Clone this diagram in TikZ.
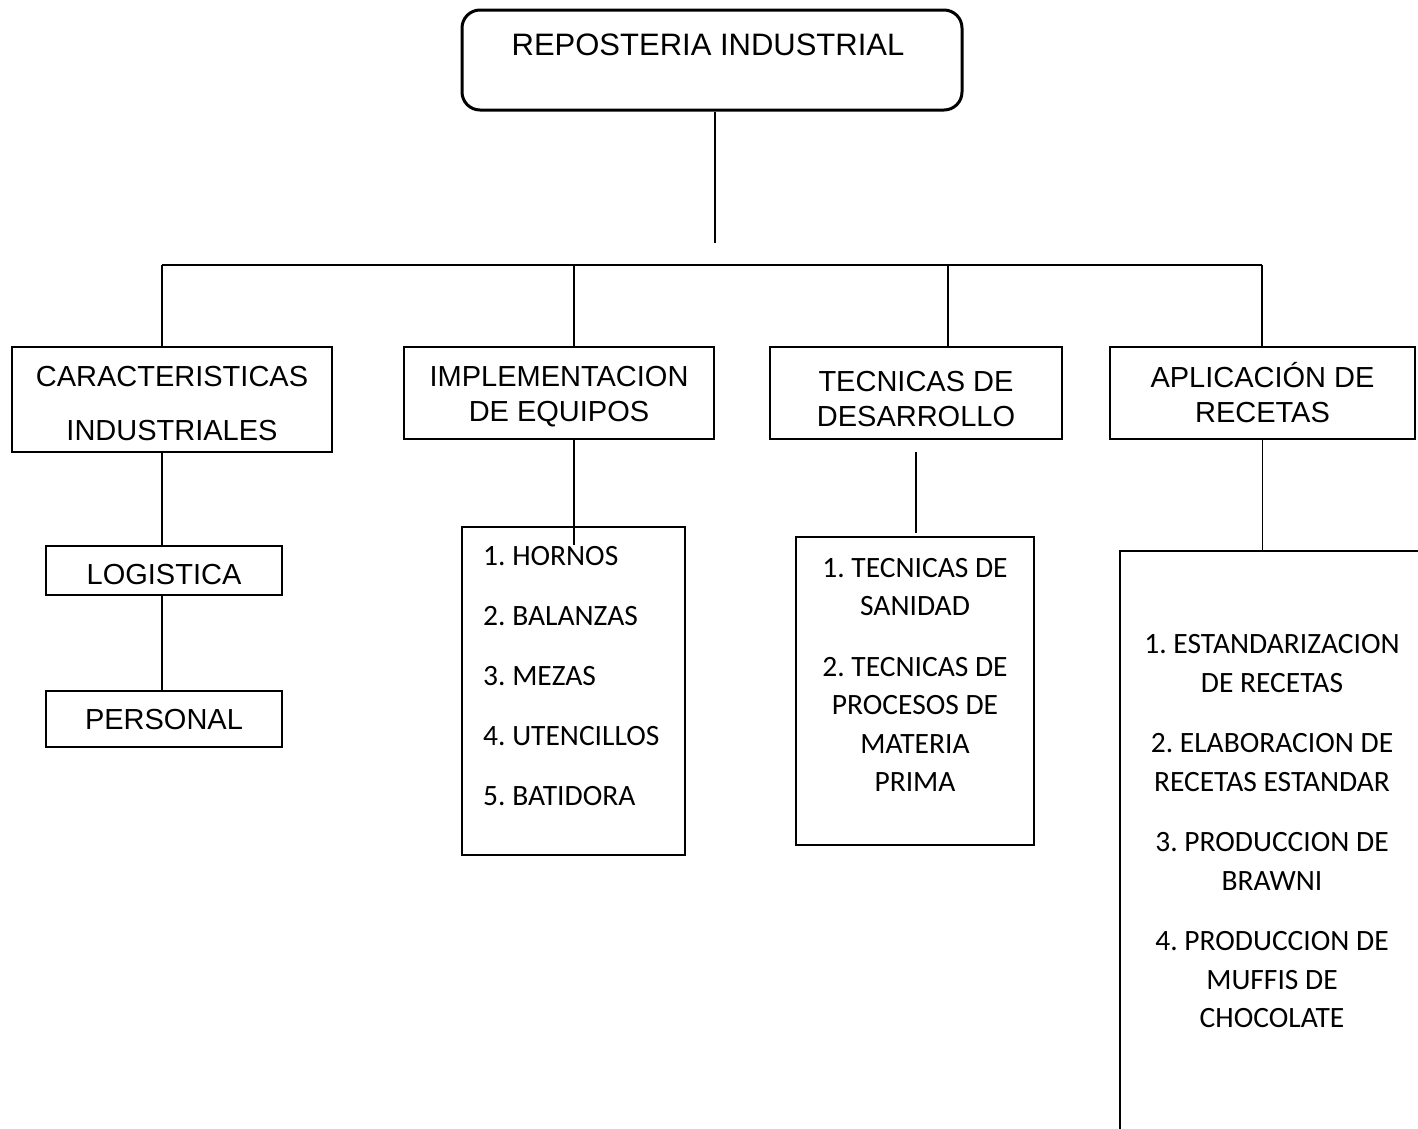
\documentclass[tikz,border=0pt]{standalone}
\usepackage{fontspec}
\setmainfont{Liberation Sans}
\newfontfamily\calibrifont{Carlito}
\usepackage{tikz}
\frenchspacing
\tikzset{
  rpframe/.style={draw, line width=2.5pt, inner sep=0pt},
  rplabel/.style={inner sep=0pt, align=center, font=\fontsize{29}{35}\selectfont},
  rplistfont/.style={inner sep=0pt, font=\calibrifont\fontsize{29.5}{38.5}\selectfont},
  rplinkline/.style={line width=1.3pt}
}
\newcommand{\rpbox}[6] {\node at (#1) (#2) [rpframe, minimum width=#3, minimum height=#4] {}; \node at (#2) (#2text) [rplabel, yshift=#5] {#6};}
\newcommand{\rptext}[4] {\node at (#1) (#2) [rplistfont, #3] {#4};}
\newcommand{\rplink}[2] {\draw [rplinkline] (#1) -- (#2);}

\begin{document}
\begin{tikzpicture}[x=1pt, y=-1pt]
\useasboundingbox (0,0) rectangle (1418,1128);

\node at (712,60) (title) [rpframe, line width=3pt, rounded corners=18pt, minimum width=500pt, minimum height=100pt] {};
\node at (708,45) (titletext) [font=\fontsize{31}{36}\selectfont] {REPOSTERIA INDUSTRIAL};

\rpbox {172,399.5} {carac} {320pt} {105pt} {-4pt} {CARACTERISTICAS\\[19pt]INDUSTRIALES};
\rpbox {559,393} {equipos} {310pt} {92pt} {-4pt} {IMPLEMENTACION\\DE EQUIPOS};
\rpbox {916,393} {tecnicas} {292pt} {92pt} {-6.5pt} {TECNICAS DE\\DESARROLLO};
\rpbox {1262.5,393} {aplic} {305pt} {92pt} {0pt} {APLICACIÓN DE\\RECETAS};
\rpbox {164,570.5} {logis} {236pt} {49pt} {-4pt} {LOGISTICA};
\rpbox {164,719} {personal} {236pt} {56pt} {-1pt} {PERSONAL};
\rpbox {573.5,691} {hornos} {223pt} {328pt} {0pt} {};
\rpbox {915,691} {sanidad} {238pt} {308pt} {0pt} {};
\rpbox {1280,860} {recetas} {320pt} {618pt} {0pt} {};

\rptext {483,676.5} {hornoslist} {anchor=west, align=left, font=\calibrifont\fontsize{29.5}{60}\selectfont} {1. HORNOS\\2. BALANZAS\\3. MEZAS\\4. UTENCILLOS\\5. BATIDORA};
\rptext {915,675} {sanidadlist} {align=center} {1. TECNICAS DE\\SANIDAD\\[22pt]2. TECNICAS DE\\PROCESOS DE\\MATERIA\\PRIMA};
\rptext {1272,831.5} {recetaslist} {align=center} {1. ESTANDARIZACION\\DE RECETAS\\[22pt]2. ELABORACION DE\\RECETAS ESTANDAR\\[22pt]3. PRODUCCION DE\\BRAWNI\\[22pt]4. PRODUCCION DE\\MUFFIS DE\\CHOCOLATE};

\coordinate (stub) at (715,243);
\coordinate (bcarac) at (162,265);
\coordinate (bequipos) at (574,265);
\coordinate (btecnicas) at (948,265);
\coordinate (baplic) at (1262,265);
\coordinate (hornosend) at (574,545);
\coordinate (sanidadtop) at (916,452);
\coordinate (sanidadend) at (916,533);

\rplink {title.south -| stub} {stub};
\rplink {bcarac} {baplic};
\rplink {bcarac} {bcarac |- carac.north};
\rplink {bequipos} {bequipos |- equipos.north};
\rplink {btecnicas} {btecnicas |- tecnicas.north};
\rplink {baplic} {baplic |- aplic.north};
\rplink {bcarac |- carac.south} {bcarac |- logis.north};
\rplink {bcarac |- logis.south} {bcarac |- personal.north};
\rplink {hornosend |- equipos.south} {hornosend};
\rplink {sanidadtop} {sanidadend};
\rplink {aplic.south} {aplic.south |- recetas.north};
\end{tikzpicture}
\end{document}
